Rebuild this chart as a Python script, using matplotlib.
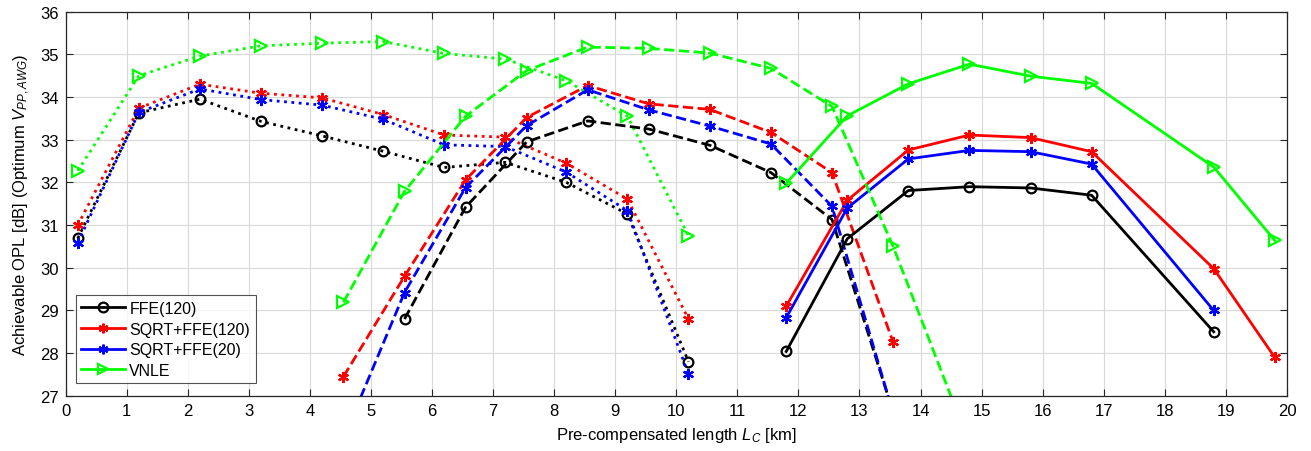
import numpy as np
import matplotlib
matplotlib.use("Agg")
import matplotlib.pyplot as plt
from matplotlib.lines import Line2D

plt.rcParams['font.family'] = ['Liberation Sans', 'DejaVu Sans']
plt.rcParams['mathtext.fontset'] = 'custom'
plt.rcParams['mathtext.rm'] = 'Liberation Sans'
plt.rcParams['mathtext.it'] = 'Liberation Sans:italic'

# ---- data ----
x_dot = [0.2, 1.2, 2.2, 3.2, 4.2, 5.2, 6.2, 7.2, 8.2, 9.2, 10.2]
ffe_dot = [30.69, 33.63, 33.95, 33.43, 33.09, 32.73, 32.35, 32.47, 32.00, 31.26, 27.80]
sqrt120_dot = [31.00, 33.74, 34.30, 34.09, 33.98, 33.59, 33.11, 33.06, 32.45, 31.61, 28.80]
sqrt20_dot = [30.59, 33.64, 34.19, 33.94, 33.81, 33.48, 32.88, 32.84, 32.24, 31.34, 27.51]
vnle_dot = [32.27, 34.50, 34.96, 35.20, 35.26, 35.30, 35.02, 34.89, 34.38, 33.55, 30.75]

x_dash = [4.55, 5.55, 6.55, 7.55, 8.55, 9.55, 10.55, 11.55, 12.55, 13.55]
ffe_dash = [np.nan, 28.80, 31.42, 32.95, 33.44, 33.25, 32.87, 32.23, 31.13, 26.62]
sqrt120_dash = [27.45, 29.80, 32.06, 33.52, 34.27, 33.84, 33.71, 33.17, 32.23, 28.26]
sqrt20_dash = [26.0, 29.42, 31.88, 33.33, 34.17, 33.70, 33.32, 32.90, 31.44, 26.60]
x_dash_vnle = [4.55, 5.55, 6.55, 7.55, 8.55, 9.55, 10.55, 11.55, 12.55, 13.55, 14.55]
vnle_dash = [29.19, 31.79, 33.55, 34.62, 35.17, 35.14, 35.03, 34.67, 33.78, 30.50, 26.80]

x_sol = [11.8, 12.8, 13.8, 14.8, 15.8, 16.8, 18.8, 19.8]
ffe_sol = [28.04, 30.68, 31.81, 31.90, 31.87, 31.70, 28.50, np.nan]
sqrt120_sol = [29.10, 31.58, 32.76, 33.11, 33.05, 32.72, 29.98, 27.90]
sqrt20_sol = [28.83, 31.40, 32.55, 32.75, 32.72, 32.43, 29.00, np.nan]
vnle_sol = [31.98, 33.56, 34.31, 34.77, 34.49, 34.32, 32.36, 30.64]

labels = ['FFE(120)', 'SQRT+FFE(120)', 'SQRT+FFE(20)', 'VNLE']
colors = ['#000000', '#ff0000', '#0000ff', '#00ff00']
markers = ['o', (6, 2, 0), (6, 2, 0), '>']

YMIN, YMAX = 27, 36

fig = plt.figure(figsize=(13.11, 4.52), dpi=100)
ax = fig.add_axes([0.050, 0.122, 0.9317, 0.850])


def draw(x, y, color, marker, ls):
    x = np.asarray(x, float)
    y = np.asarray(y, float)
    ok = (~np.isnan(y)) & (y >= YMIN) & (y <= YMAX)
    ms = 8 if marker != 'o' else 7
    ax.plot(x, y, color=color, ls=ls, lw=2, marker=marker, ms=ms,
            mfc='none' if marker in ('o', '>') else color, mew=1.6,
            markevery=list(np.where(ok)[0]), clip_on=True)


groups = [
    (x_dot, [ffe_dot, sqrt120_dot, sqrt20_dot, vnle_dot], ':'),
    (x_dash, [ffe_dash, sqrt120_dash, sqrt20_dash], '--'),
    (x_sol, [ffe_sol, sqrt120_sol, sqrt20_sol, vnle_sol], '-'),
]
for gx, ys, ls in groups:
    for i, y in enumerate(ys):
        draw(gx, y, colors[i], markers[i], ls)
draw(x_dash_vnle, vnle_dash, colors[3], markers[3], '--')

ax.set_xlim(0, 20)
ax.set_ylim(YMIN, YMAX)
ax.set_xticks(range(0, 21))
ax.set_yticks(range(27, 37))
ax.grid(True, color='#d9d9d9', lw=0.8)
ax.set_axisbelow(True)
ax.tick_params(direction='in', length=5, labelsize=12, top=True, right=True,
               labeltop=False, labelright=False, color='#262626', pad=5)
for s in ax.spines.values():
    s.set_color('#262626')
    s.set_linewidth(0.9)
ax.set_xlabel('Pre-compensated length $L_C$ [km]', fontsize=12, labelpad=5)
ax.set_ylabel('Achievable OPL [dB] (Optimum $V_{PP,AWG}$)', fontsize=12, labelpad=6)

handles = [Line2D([], [], color=c, lw=2, marker=m, ms=7,
                  mfc='none' if m in ('o', '>') else c, mew=1.6)
           for c, m in zip(colors, markers)]
leg = ax.legend(handles, labels, loc='lower left', bbox_to_anchor=(0.0045, 0.02),
                fontsize=11.5, frameon=True, fancybox=False, edgecolor='#262626',
                handlelength=2.7, borderpad=0.35, labelspacing=0.35,
                handletextpad=0.3, borderaxespad=0.3)
leg.get_frame().set_linewidth(0.8)

fig.savefig('out.png', dpi=100)
